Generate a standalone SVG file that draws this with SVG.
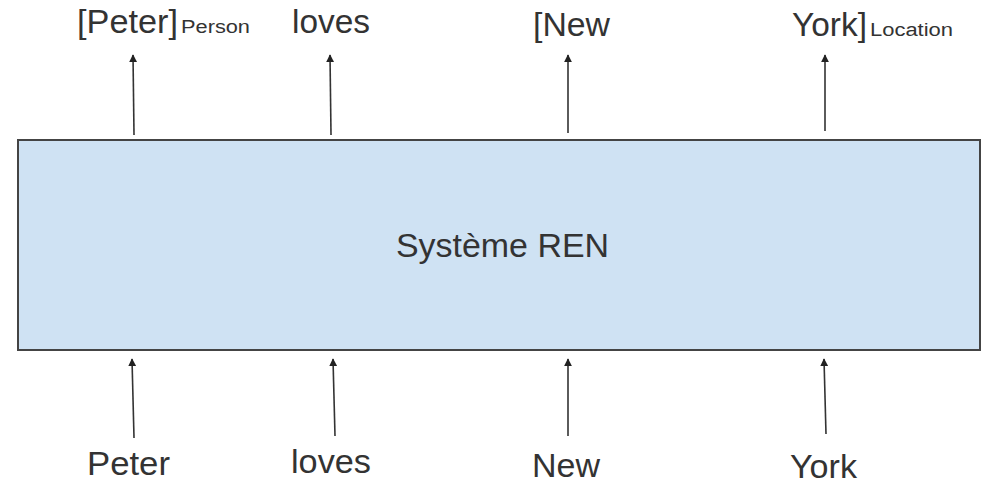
<svg xmlns="http://www.w3.org/2000/svg" width="990" height="492" viewBox="0 0 990 492">
  <defs>
    <marker id="head" viewBox="0 0 10 10" refX="9" refY="5" markerWidth="5" markerHeight="5" orient="auto">
      <path d="M0,0 L10,5 L0,10 z" fill="#222"/>
    </marker>
    <style>
      .lbl { font-family: "Liberation Sans", Arial, sans-serif; font-size: 33px; fill: #333; }
      .sub { font-family: "Liberation Sans", Arial, sans-serif; font-size: 18px; fill: #333; }
      .arrow { stroke: #333; stroke-width: 1.6; fill: none; marker-end: url(#head); }
    </style>
  </defs>
  <rect width="990" height="492" fill="#ffffff"/>

  <!-- NER system -->
  <g id="system">
    <rect x="18" y="140" width="962" height="210" fill="#cfe2f3" stroke="#444" stroke-width="2"/>
    <text class="lbl" x="396" y="257" textLength="213" lengthAdjust="spacingAndGlyphs">Système REN</text>
  </g>

  <!-- input tokens -->
  <g id="in-peter"><text class="lbl" x="87" y="475" textLength="83" lengthAdjust="spacingAndGlyphs">Peter</text></g>
  <g id="in-loves"><text class="lbl" x="291" y="473" textLength="80" lengthAdjust="spacingAndGlyphs">loves</text></g>
  <g id="in-new"><text class="lbl" x="532" y="477" textLength="68" lengthAdjust="spacingAndGlyphs">New</text></g>
  <g id="in-york"><text class="lbl" x="790" y="478" textLength="67" lengthAdjust="spacingAndGlyphs">York</text></g>

  <!-- tagged output tokens -->
  <g id="out-peter">
    <text class="lbl" x="77" y="33" textLength="101" lengthAdjust="spacingAndGlyphs">[Peter]</text>
    <text class="sub" x="181" y="33" textLength="69" lengthAdjust="spacingAndGlyphs">Person</text>
  </g>
  <g id="out-loves"><text class="lbl" x="292" y="33" textLength="78" lengthAdjust="spacingAndGlyphs">loves</text></g>
  <g id="out-new"><text class="lbl" x="533" y="36" textLength="77" lengthAdjust="spacingAndGlyphs">[New</text></g>
  <g id="out-york">
    <text class="lbl" x="792" y="36" textLength="75" lengthAdjust="spacingAndGlyphs">York]</text>
    <text class="sub" x="870" y="36" textLength="83" lengthAdjust="spacingAndGlyphs">Location</text>
  </g>

  <!-- connectors -->
  <g id="connectors">
    <line class="arrow" x1="134" y1="135" x2="133" y2="55"/>
    <line class="arrow" x1="331" y1="135" x2="330" y2="55"/>
    <line class="arrow" x1="568" y1="133" x2="568" y2="55"/>
    <line class="arrow" x1="825" y1="131" x2="825" y2="55"/>
    <line class="arrow" x1="134" y1="438" x2="132" y2="359"/>
    <line class="arrow" x1="335" y1="436" x2="333" y2="359"/>
    <line class="arrow" x1="568" y1="436" x2="568" y2="359"/>
    <line class="arrow" x1="826" y1="434" x2="824" y2="359"/>
  </g>
</svg>
